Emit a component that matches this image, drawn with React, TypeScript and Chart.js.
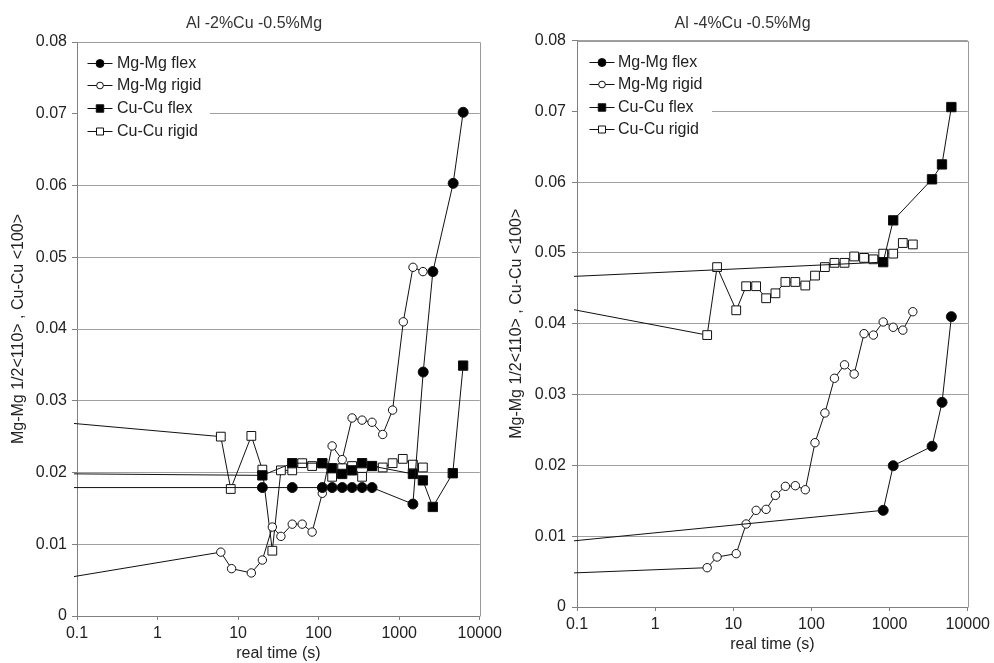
import React, { useEffect, useRef } from 'react';
import { Chart, registerables } from 'chart.js';

Chart.register(...registerables);

// ---------- shared labels ----------
const SERIES_NAMES = ['Mg-Mg flex', 'Mg-Mg rigid', 'Cu-Cu flex', 'Cu-Cu rigid'];
const X_TICKS = [0.1, 1, 10, 100, 1000, 10000];
const X_TICK_LABELS = ['0.1', '1', '10', '100', '1000', '10000'];
const Y_TICKS = [0, 0.01, 0.02, 0.03, 0.04, 0.05, 0.06, 0.07, 0.08];
const Y_TICK_LABELS = ['0', '0.01', '0.02', '0.03', '0.04', '0.05', '0.06', '0.07', '0.08'];
const X_TITLE = 'real time (s)';
const Y_TITLE = 'Mg-Mg 1/2<110> , Cu-Cu <100>';

// ---------- left panel: Al -2%Cu -0.5%Mg ----------
const LEFT_TITLE = 'Al -2%Cu -0.5%Mg';
const leftMgFlexTime = [0.01, 20, 47, 111, 147, 196, 260, 346, 460, 1480, 1986, 2618, 4677, 6220];
const leftMgFlexValue = [0.0179, 0.0179, 0.0179, 0.0179, 0.0179, 0.0179, 0.0179, 0.0179, 0.0179, 0.0156, 0.034, 0.048, 0.0603, 0.0702];
const leftMgRigidTime = [0.01, 6.1, 8.3, 14.6, 20, 26.6, 34, 47, 62.5, 83, 111, 147, 196, 260, 346, 460, 624, 828, 1124, 1483, 1972];
const leftMgRigidValue = [0.0037, 0.0089, 0.0066, 0.006, 0.0078, 0.0124, 0.0111, 0.0128, 0.0128, 0.0117, 0.0171, 0.0237, 0.0218, 0.0276, 0.0273, 0.027, 0.0253, 0.0287, 0.041, 0.0486, 0.048];
const leftCuFlexTime = [0.01, 20, 47, 111, 147, 196, 260, 346, 460, 1480, 1967, 2612, 4624, 6220];
const leftCuFlexValue = [0.0199, 0.0196, 0.0213, 0.0213, 0.0206, 0.0198, 0.0203, 0.0213, 0.0209, 0.0198, 0.0189, 0.0152, 0.0199, 0.0349];
const leftCuRigidTime = [0.01, 6.1, 8.1, 14.6, 20, 26.6, 34, 47, 62.5, 83, 111, 147, 196, 260, 346, 460, 624, 828, 1107, 1480, 1967];
const leftCuRigidValue = [0.0278, 0.025, 0.0177, 0.0251, 0.0204, 0.0091, 0.0203, 0.0203, 0.0213, 0.0209, 0.0213, 0.0194, 0.0206, 0.0209, 0.0194, 0.0209, 0.0207, 0.0213, 0.0219, 0.0211, 0.0207];

// ---------- right panel: Al -4%Cu -0.5%Mg ----------
const RIGHT_TITLE = 'Al -4%Cu -0.5%Mg';
const rightMgFlexTime = [0.01, 828, 1112, 3499, 4690, 6170];
const rightMgFlexValue = [0.0083, 0.01365, 0.01995, 0.0227, 0.0289, 0.041];
const rightMgRigidTime = [0.01, 4.63, 6.2, 10.9, 14.6, 19.6, 26.3, 34.6, 46.4, 62.2, 83.4, 111, 148.6, 197, 265, 352, 471, 620, 828, 1112, 1476, 1982];
const rightMgRigidValue = [0.0044, 0.00555, 0.00706, 0.00753, 0.01172, 0.01365, 0.01379, 0.01576, 0.01704, 0.01713, 0.01656, 0.0232, 0.0274, 0.0323, 0.0342, 0.0329, 0.0386, 0.0384, 0.04025, 0.0395, 0.0391, 0.0417];
const rightCuFlexTime = [0.01, 828, 1112, 3490, 4680, 6170];
const rightCuFlexValue = [0.0462, 0.0487, 0.0546, 0.0604, 0.0625, 0.0706];
const rightCuRigidTime = [0.01, 4.63, 6.2, 10.9, 14.6, 19.6, 26.3, 34.6, 46.4, 62.2, 83.4, 111, 148.6, 197, 265, 352, 471, 620, 828, 1112, 1476, 1982];
const rightCuRigidValue = [0.044, 0.0384, 0.048, 0.0419, 0.0453, 0.0453, 0.0436, 0.0443, 0.0459, 0.0459, 0.0454, 0.0468, 0.048, 0.0486, 0.0486, 0.0495, 0.0493, 0.0491, 0.0499, 0.0499, 0.0514, 0.0512];

// ---------- styling (not data) ----------
const FONT = "'Liberation Sans', Arial, Helvetica, sans-serif";
const INK = '#111';
const SERIES_STYLES = [
  { pointStyle: 'circle', radius: 5, fill: '#000' },
  { pointStyle: 'circle', radius: 4.2, fill: '#fff' },
  { pointStyle: 'rect', radius: 6.6, fill: '#000' },
  { pointStyle: 'rect', radius: 6.2, fill: '#fff' },
];

function pairs(xs: number[], ys: number[]) {
  return xs.map((x, i) => ({ x, y: ys[i] }));
}

function drawMarker(ctx: CanvasRenderingContext2D, style: string, r: number, x: number, y: number, fill: string) {
  ctx.beginPath();
  if (style === 'rect') {
    const h = r * Math.SQRT1_2;
    ctx.rect(x - h, y - h, 2 * h, 2 * h);
  } else {
    ctx.arc(x, y, r, 0, Math.PI * 2);
  }
  ctx.fillStyle = fill;
  ctx.fill();
  ctx.strokeStyle = INK;
  ctx.lineWidth = 1;
  ctx.stroke();
}

const insideLegend = {
  id: 'insideLegend',
  afterDraw(chart: any, _args: any, opts: any) {
    const { ctx, chartArea: ca } = chart;
    ctx.save();
    ctx.fillStyle = '#fff';
    ctx.fillRect(ca.left + 1, ca.top + opts.boxTop, opts.boxWidth, opts.boxHeight);
    ctx.font = `16px ${FONT}`;
    ctx.textBaseline = 'middle';
    ctx.textAlign = 'left';
    chart.data.datasets.forEach((ds: any, i: number) => {
      const cy = Math.round(ca.top + opts.firstRow + i * opts.rowGap) + 0.5;
      const cx = ca.left + opts.markerX;
      ctx.strokeStyle = INK;
      ctx.lineWidth = 1;
      ctx.beginPath();
      ctx.moveTo(cx - 12.5, cy);
      ctx.lineTo(cx + 12.5, cy);
      ctx.stroke();
      drawMarker(ctx, ds.pointStyle, ds.pointRadius * 0.8, cx, cy, ds.pointBackgroundColor);
      ctx.fillStyle = '#222';
      ctx.fillText(ds.label, ca.left + opts.textX, cy);
    });
    ctx.restore();
  },
};

const plotFrame = {
  id: 'plotFrame',
  beforeDatasetsDraw(chart: any) {
    const { ctx, chartArea: ca } = chart;
    ctx.save();
    ctx.strokeStyle = '#9a9a9a';
    ctx.lineWidth = 1;
    ctx.beginPath();
    ctx.moveTo(Math.round(ca.left) + 0.5, Math.round(ca.top) + 0.5);
    ctx.lineTo(Math.round(ca.right) + 0.5, Math.round(ca.top) + 0.5);
    ctx.lineTo(Math.round(ca.right) + 0.5, Math.round(ca.bottom) + 0.5);
    ctx.stroke();
    ctx.restore();
  },
};

type PanelLayout = {
  pageLeft: number;
  width: number;
  padLeft: number;
  padRight: number;
  yAxisWidth: number;
  yTitleOffset: number;
  yTickPad: number;
  xAxisHeight: number;
  xTitlePadBottom: number;
  titlePadTop: number;
  titlePadBottom: number;
  legend: any;
};

type PanelData = {
  title: string;
  series: { x: number[]; y: number[] }[];
};

function Panel({ data, layout }: { data: PanelData; layout: PanelLayout }) {
  const ref = useRef<HTMLCanvasElement | null>(null);
  useEffect(() => {
    if (!ref.current) return;
    const datasets = data.series.map((s, i) => ({
      label: SERIES_NAMES[i],
      data: pairs(s.x, s.y),
      showLine: true,
      borderColor: INK,
      borderWidth: 1,
      pointStyle: SERIES_STYLES[i].pointStyle,
      pointRadius: SERIES_STYLES[i].radius,
      pointHoverRadius: SERIES_STYLES[i].radius,
      pointBackgroundColor: SERIES_STYLES[i].fill,
      pointBorderColor: INK,
      pointBorderWidth: 1,
      tension: 0,
      clip: { left: 3, top: 10, right: 10, bottom: 10 },
    }));
    const chart = new Chart(ref.current, {
      type: 'scatter',
      data: { datasets },
      plugins: [plotFrame, insideLegend],
      options: {
        animation: false,
        responsive: false,
        devicePixelRatio: 1,
        font: { family: FONT, size: 16 },
        color: '#222',
        layout: { padding: { left: layout.padLeft, right: layout.padRight, top: 0, bottom: 0 } },
        plugins: {
          legend: { display: false },
          tooltip: { enabled: false },
          title: {
            display: true,
            text: data.title,
            color: '#333',
            font: { family: FONT, size: 16, weight: 'normal' },
            padding: { top: layout.titlePadTop, bottom: layout.titlePadBottom },
          },
          insideLegend: layout.legend,
        } as any,
        scales: {
          x: {
            type: 'logarithmic',
            min: X_TICKS[0],
            max: X_TICKS[X_TICKS.length - 1],
            afterBuildTicks: (scale: any) => {
              scale.ticks = X_TICKS.map((v) => ({ value: v }));
            },
            afterFit: (scale: any) => {
              scale.height = layout.xAxisHeight;
            },
            ticks: {
              autoSkip: false,
              maxRotation: 0,
              minRotation: 0,
              padding: 4,
              color: '#222',
              font: { family: FONT, size: 16 },
              callback: (_v: any, i: number) => X_TICK_LABELS[i],
            },
            grid: { drawOnChartArea: false, drawTicks: true, tickLength: 4, color: '#808080' },
            border: { display: true, color: '#808080', width: 1 },
            title: {
              display: true,
              text: X_TITLE,
              color: '#222',
              font: { family: FONT, size: 16 },
              padding: { top: 0, bottom: layout.xTitlePadBottom },
            },
          },
          y: {
            type: 'linear',
            min: Y_TICKS[0],
            max: Y_TICKS[Y_TICKS.length - 1],
            afterBuildTicks: (scale: any) => {
              scale.ticks = Y_TICKS.map((v) => ({ value: v }));
            },
            afterFit: (scale: any) => {
              scale.width = layout.yAxisWidth;
            },
            ticks: {
              padding: layout.yTickPad,
              color: '#222',
              font: { family: FONT, size: 16 },
              callback: (_v: any, i: number) => Y_TICK_LABELS[i],
            },
            grid: { color: '#a0a0a0', tickColor: '#808080', drawTicks: true, tickLength: 5, lineWidth: 1 },
            border: { display: true, color: '#808080', width: 1 },
            title: {
              display: true,
              text: Y_TITLE,
              color: '#222',
              font: { family: FONT, size: 16 },
              padding: { top: layout.yTitleOffset, bottom: 0 },
            },
          },
        },
      } as any,
    });
    return () => chart.destroy();
  }, [data, layout]);
  return (
    <canvas
      ref={ref}
      width={layout.width}
      height={663}
      style={{ position: 'absolute', left: layout.pageLeft, top: 0, width: layout.width, height: 663 }}
    />
  );
}

const leftData: PanelData = {
  title: LEFT_TITLE,
  series: [
    { x: leftMgFlexTime, y: leftMgFlexValue },
    { x: leftMgRigidTime, y: leftMgRigidValue },
    { x: leftCuFlexTime, y: leftCuFlexValue },
    { x: leftCuRigidTime, y: leftCuRigidValue },
  ],
};

const rightData: PanelData = {
  title: RIGHT_TITLE,
  series: [
    { x: rightMgFlexTime, y: rightMgFlexValue },
    { x: rightMgRigidTime, y: rightMgRigidValue },
    { x: rightCuFlexTime, y: rightCuFlexValue },
    { x: rightCuRigidTime, y: rightCuRigidValue },
  ],
};

const leftLayout: PanelLayout = {
  pageLeft: 0,
  width: 506,
  padLeft: 27,
  padRight: 25,
  yAxisWidth: 50,
  yTitleOffset: -17.6,
  yTickPad: 5,
  xAxisHeight: 47,
  xTitlePadBottom: 0,
  titlePadTop: 14.4,
  titlePadBottom: 8.4,
  legend: { boxTop: 8, boxWidth: 132, boxHeight: 92, firstRow: 20.7, rowGap: 22.7, markerX: 23, textX: 40 },
};

const rightLayout: PanelLayout = {
  pageLeft: 494,
  width: 500,
  padLeft: 22,
  padRight: 25,
  yAxisWidth: 61,
  yTitleOffset: -8.6,
  yTickPad: 6,
  xAxisHeight: 56,
  xTitlePadBottom: 8.4,
  titlePadTop: 14.4,
  titlePadBottom: 6.9,
  legend: { boxTop: 8, boxWidth: 134, boxHeight: 92, firstRow: 21.2, rowGap: 22.4, markerX: 25, textX: 41 },
};

export default function App() {
  return (
    <div style={{ position: 'absolute', left: 0, top: 0, width: 994, height: 663, background: '#fff', overflow: 'hidden' }}>
      <Panel data={leftData} layout={leftLayout} />
      <Panel data={rightData} layout={rightLayout} />
    </div>
  );
}
